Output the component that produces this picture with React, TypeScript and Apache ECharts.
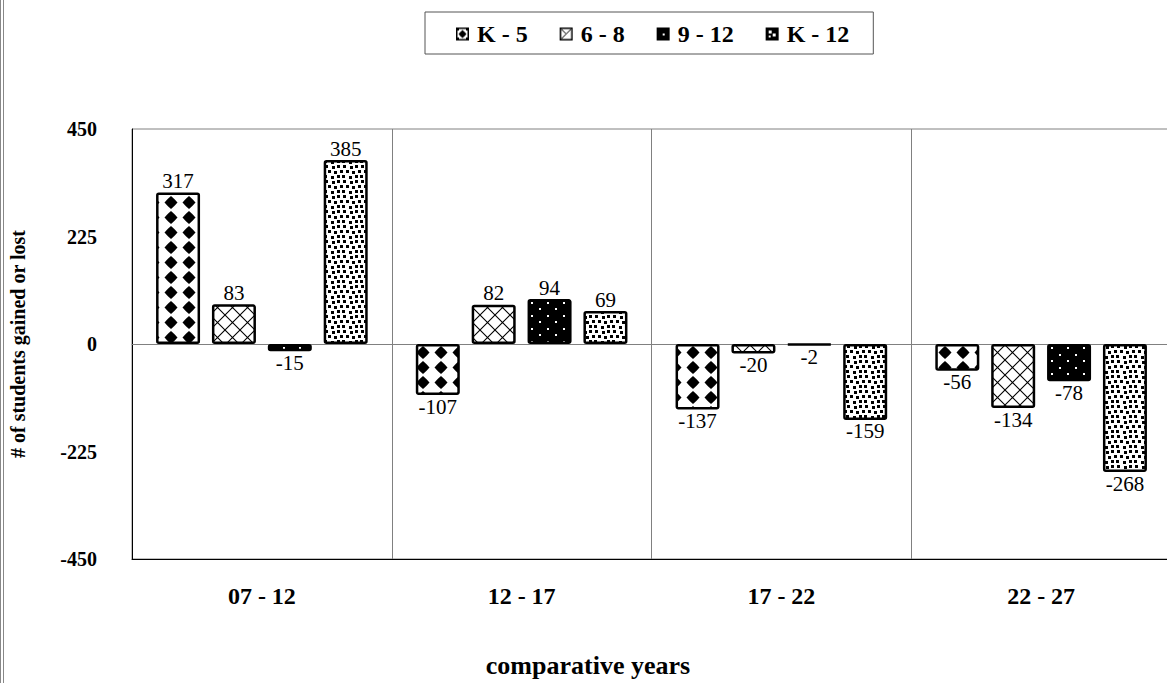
import React, { useEffect, useRef } from "react";
import * as echarts from "echarts";

const categories = ["07 - 12", "12 - 17", "17 - 22", "22 - 27"];
const seriesNames = ["K - 5", "6 - 8", "9 - 12", "K - 12"];
const k5 = [317, -107, -137, -56];
const g68 = [83, 82, -20, -134];
const g912 = [-15, 94, -2, -78];
const k12 = [385, 69, -159, -268];
const yTicks = [-450, -225, 0, 225, 450];
const yAxisTitle = "# of students gained or lost";
const xAxisTitle = "comparative years";

const FONT = "'Liberation Serif', 'DejaVu Serif', serif";

function makeCanvas(w: number, h: number, draw: (ctx: CanvasRenderingContext2D) => void) {
  const c = document.createElement("canvas");
  c.width = w;
  c.height = h;
  const ctx = c.getContext("2d") as CanvasRenderingContext2D;
  draw(ctx);
  return c;
}

function drawDiamond(ctx: CanvasRenderingContext2D, cx: number, cy: number, rx: number, ry: number) {
  const k = 0.55;
  ctx.beginPath();
  ctx.moveTo(cx, cy - ry);
  ctx.quadraticCurveTo(cx + rx * k, cy - ry * k, cx + rx, cy);
  ctx.quadraticCurveTo(cx + rx * k, cy + ry * k, cx, cy + ry);
  ctx.quadraticCurveTo(cx - rx * k, cy + ry * k, cx - rx, cy);
  ctx.quadraticCurveTo(cx - rx * k, cy - ry * k, cx, cy - ry);
  ctx.closePath();
  ctx.fill();
}

function patternK5() {
  return makeCanvas(18, 15, (ctx) => {
    ctx.fillStyle = "#fff";
    ctx.fillRect(0, 0, 18, 15);
    ctx.fillStyle = "#000";
    drawDiamond(ctx, 9, 7.5, 6.5, 6.5);
  });
}

function pattern68() {
  return makeCanvas(15, 15, (ctx) => {
    ctx.fillStyle = "#fff";
    ctx.fillRect(0, 0, 15, 15);
    ctx.strokeStyle = "#000";
    ctx.lineWidth = 1.1;
    ctx.beginPath();
    ctx.moveTo(-1, 16);
    ctx.lineTo(16, -1);
    ctx.moveTo(-1, -1);
    ctx.lineTo(16, 16);
    ctx.stroke();
  });
}

function pattern912() {
  return makeCanvas(16, 13, (ctx) => {
    ctx.fillStyle = "#000";
    ctx.fillRect(0, 0, 16, 13);
    ctx.fillStyle = "#fff";
    ctx.fillRect(3, 3, 2, 2);
    ctx.fillRect(11, 9, 2, 2);
  });
}

function patternK12() {
  const pts = [
    [1, 0], [8, 1], [13, 0],
    [4, 5], [10, 6], [16, 5],
    [0, 10], [7, 11], [13, 10],
  ];
  return makeCanvas(18, 15, (ctx) => {
    ctx.fillStyle = "#fff";
    ctx.fillRect(0, 0, 18, 15);
    ctx.fillStyle = "#000";
    pts.forEach(([x, y]) => {
      for (const dx of [-18, 0, 18]) for (const dy of [-15, 0, 15]) ctx.fillRect(x + dx, y + dy, 3, 3);
    });
  });
}

function iconFrom(drawInner: (ctx: CanvasRenderingContext2D) => void) {
  const c = makeCanvas(13, 13, (ctx) => {
    ctx.fillStyle = "#fff";
    ctx.fillRect(0, 0, 13, 13);
    drawInner(ctx);
    ctx.strokeStyle = "#000";
    ctx.lineWidth = 1.5;
    ctx.strokeRect(0.75, 0.75, 11.5, 11.5);
  });
  return "image://" + c.toDataURL();
}

export default function App() {
  const ref = useRef<HTMLDivElement>(null);
  useEffect(() => {
    if (!ref.current) return;
    const chart = echarts.init(ref.current, null, { renderer: "svg" });
    const tiles = [patternK5(), pattern68(), pattern912(), patternK12()];
    const icons = [
      iconFrom((ctx) => {
        ctx.fillStyle = "#000";
        drawDiamond(ctx, 6.5, 6.5, 4, 4);
        ctx.fillRect(1, 1, 2, 2);
        ctx.fillRect(10, 1, 2, 2);
        ctx.fillRect(1, 10, 2, 2);
        ctx.fillRect(10, 10, 2, 2);
      }),
      iconFrom((ctx) => {
        ctx.strokeStyle = "#000";
        ctx.lineWidth = 1;
        ctx.beginPath();
        ctx.moveTo(2, 11);
        ctx.lineTo(11, 2);
        ctx.moveTo(2, 2);
        ctx.lineTo(6, 6);
        ctx.stroke();
      }),
      iconFrom((ctx) => {
        ctx.fillStyle = "#000";
        ctx.fillRect(0, 0, 13, 13);
        ctx.fillStyle = "#fff";
        ctx.fillRect(6, 6, 2, 2);
      }),
      iconFrom((ctx) => {
        ctx.fillStyle = "#000";
        ctx.fillRect(0, 0, 13, 13);
        ctx.fillStyle = "#fff";
        ctx.fillRect(3, 3, 3, 3);
        ctx.fillRect(7, 6, 3, 3);
        ctx.fillRect(3, 8, 2, 2);
      }),
    ];
    const allValues = [k5, g68, g912, k12];
    const series = allValues.map((vals, i) => ({
      name: seriesNames[i],
      type: "bar",
      xAxisIndex: 0,
      barWidth: 44,
      barGap: "27%",
      itemStyle: {
        color: { image: tiles[i], repeat: "repeat", imageWidth: tiles[i].width, imageHeight: tiles[i].height },
        borderColor: "#000",
        borderWidth: 2.5,
        borderRadius: 1.5,
      },
      label: {
        show: true,
        fontFamily: FONT,
        fontSize: 21,
        color: "#000",
        distance: 1,
      },
      data: vals.map((v) => ({ value: v, label: { position: v < 0 ? "bottom" : "top" } })),
    }));
    chart.setOption({
      animation: false,
      backgroundColor: "#fff",
      grid: {
        left: 132,
        right: -4,
        top: 129,
        bottom: 124,
        show: true,
        borderColor: "#808080",
        borderWidth: 1,
        outerBoundsMode: "none",
        containLabel: false,
      },
      legend: {
        left: 425,
        top: 12,
        orient: "horizontal",
        padding: [10, 24, 8, 31],
        itemGap: 32,
        itemWidth: 13,
        itemHeight: 13,
        borderColor: "#555",
        borderWidth: 1,
        selectedMode: false,
        textStyle: { fontFamily: FONT, fontWeight: "bold", fontSize: 24, color: "#000", padding: [0, 0, 0, 3] },
        data: seriesNames.map((n, i) => ({ name: n, icon: icons[i] })),
      },
      xAxis: [
        {
          type: "category",
          data: categories,
          position: "bottom",
          axisLine: { onZero: false, lineStyle: { color: "#000", width: 1 } },
          axisTick: { show: false },
          axisLabel: { fontFamily: FONT, fontWeight: "bold", fontSize: 24, color: "#000", margin: 25 },
          splitLine: { show: true, interval: 0, lineStyle: { color: "#808080", width: 1 } },
        },
        {
          type: "category",
          data: categories,
          position: "top",
          axisLine: { onZero: true, lineStyle: { color: "#808080", width: 1 } },
          axisTick: { show: false },
          axisLabel: { show: false },
          splitLine: { show: false },
        },
      ],
      yAxis: {
        type: "value",
        min: yTicks[0],
        max: yTicks[yTicks.length - 1],
        interval: yTicks[1] - yTicks[0],
        axisLine: { show: true, lineStyle: { color: "#000", width: 1 } },
        axisTick: { show: false },
        splitLine: { show: false },
        axisLabel: { fontFamily: FONT, fontWeight: "bold", fontSize: 20, color: "#000", margin: 35 },
      },
      graphic: [
        {
          type: "text",
          x: 18,
          y: 344,
          rotation: Math.PI / 2,
          style: {
            text: yAxisTitle,
            align: "center",
            verticalAlign: "middle",
            fontFamily: FONT,
            fontWeight: "bold",
            fontSize: 20,
            fill: "#000",
          },
        },
        {
          type: "text",
          style: {
            x: 588,
            y: 665,
            text: xAxisTitle,
            align: "center",
            verticalAlign: "middle",
            fontFamily: FONT,
            fontWeight: "bold",
            fontSize: 26,
            fill: "#000",
          },
        },
        { type: "line", shape: { x1: 0.5, y1: 0, x2: 0.5, y2: 683 }, style: { stroke: "#888", lineWidth: 1 } },
        { type: "line", shape: { x1: 3.5, y1: 0, x2: 3.5, y2: 683 }, style: { stroke: "#888", lineWidth: 1 } },
      ],
      series,
    });
    return () => chart.dispose();
  }, []);
  return (
    <div
      ref={ref}
      style={{ position: "absolute", left: 0, top: 0, width: 1167, height: 683 }}
    />
  );
}
